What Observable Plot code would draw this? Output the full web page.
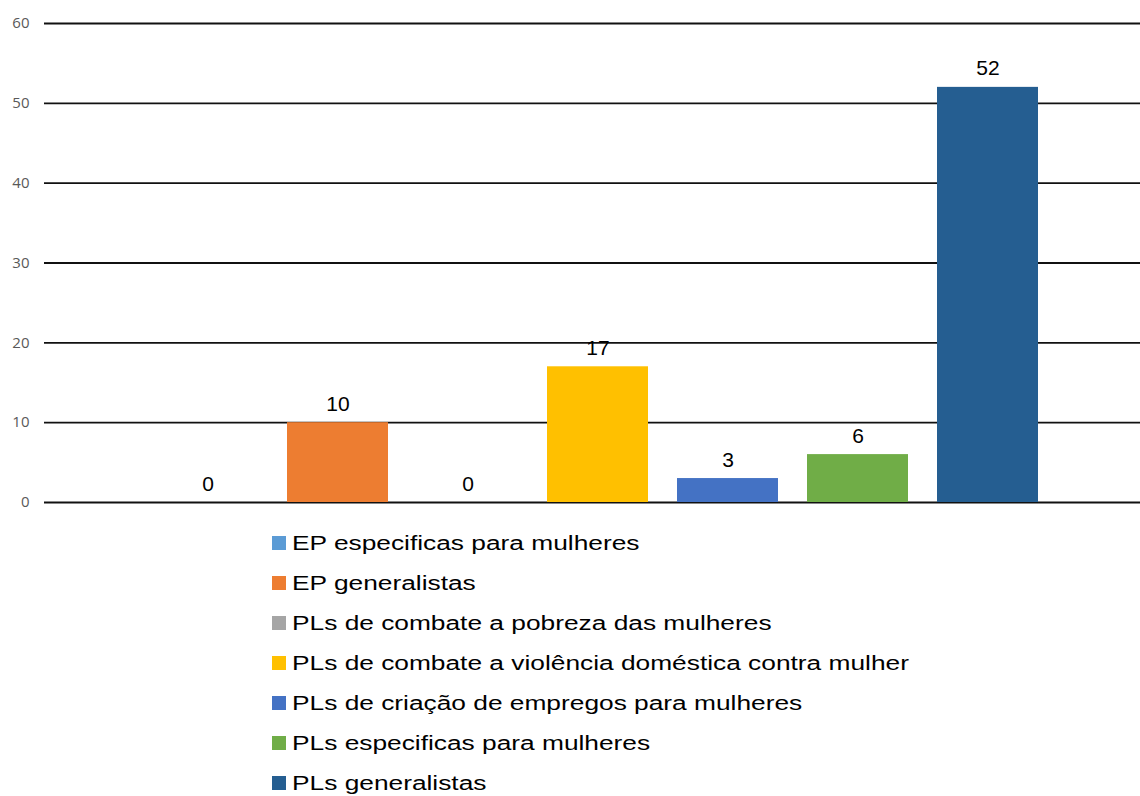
<!DOCTYPE html>
<html>
<head>
<meta charset="utf-8">
<script src="https://cdn.jsdelivr.net/npm/d3@7"></script>
<script src="https://cdn.jsdelivr.net/npm/@observablehq/plot@0.6"></script>
<style>
  html, body { margin: 0; padding: 0; background: #fff; }
  #chart svg { display: block; }
  .legend { padding-left: 272px; padding-top: 3px; font-family: "Liberation Sans", Arial, sans-serif; }
  .legend .row { height: 40px; display: flex; align-items: center; }
  .legend .sw { width: 14px; height: 14px; margin-right: 6px; flex: none; }
  .legend .lab { font-size: 20px; color: #000; display: inline-block; transform: scaleX(1.315); transform-origin: left center; white-space: nowrap; }
</style>
</head>
<body>
<div id="chart"></div>
<div class="legend" id="legend"></div>
<script>
const categories = [
  "EP especificas para mulheres",
  "EP generalistas",
  "PLs de combate a pobreza das mulheres",
  "PLs de combate a violência doméstica contra mulher",
  "PLs de criação de empregos para mulheres",
  "PLs especificas para mulheres",
  "PLs generalistas"
];
const values = [0, 10, 0, 17, 3, 6, 52];
const colors = ["#5B9BD5", "#ED7D31", "#A5A5A5", "#FFC000", "#4472C4", "#70AD47", "#255E91"];
const yTicks = [0, 10, 20, 30, 40, 50, 60];

const data = categories.map((c, i) => ({category: c, value: values[i]}));

const chart = Plot.plot({
  width: 1140,
  height: 520,
  marginLeft: 44,
  marginRight: 0,
  marginTop: 23,
  marginBottom: 18,
  style: {background: "#fff"},
  x: {domain: categories, range: [142.5, 1052.5], paddingInner: 0.2231, paddingOuter: 0.1115, axis: null},
  y: {domain: [0, 60], ticks: yTicks},
  color: {domain: categories, range: colors},
  marks: [
    Plot.ruleY(yTicks, {stroke: "#111", strokeWidth: 1.8}),
    Plot.barY(data, {x: "category", y: "value", fill: "category"}),
    Plot.text(data, {x: "category", y: "value", text: d => String(d.value), lineAnchor: "bottom", dy: -12, fontSize: 21, fill: "#000", fontFamily: "Liberation Sans, Arial, sans-serif"}),
    Plot.axisY({ticks: yTicks, tickSize: 0, tickPadding: 15, label: null, fill: "#595959", fontSize: 15, fontFamily: "Open Sans, sans-serif"})
  ]
});
document.getElementById("chart").appendChild(chart);

const legend = document.getElementById("legend");
categories.forEach((c, i) => {
  const row = document.createElement("div");
  row.className = "row";
  const sw = document.createElement("span");
  sw.className = "sw";
  sw.style.background = colors[i];
  const lab = document.createElement("span");
  lab.className = "lab";
  lab.textContent = c;
  row.appendChild(sw);
  row.appendChild(lab);
  legend.appendChild(row);
});
</script>
</body>
</html>
